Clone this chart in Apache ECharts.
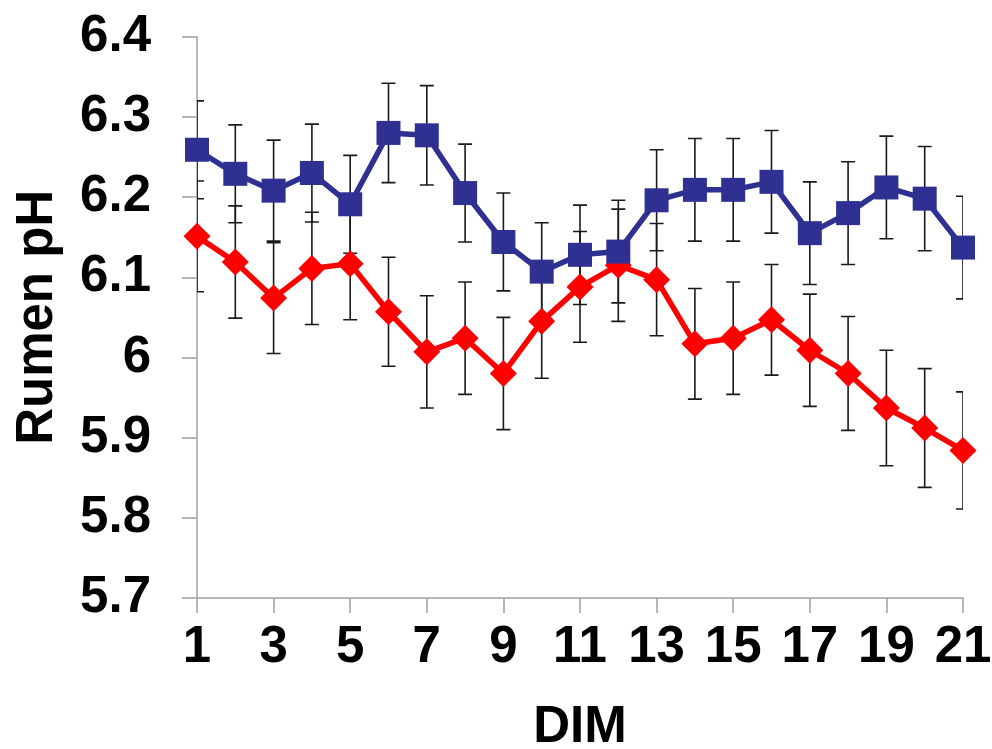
<!DOCTYPE html>
<html>
<head>
<meta charset="utf-8">
<script src="https://cdn.jsdelivr.net/npm/echarts@6/dist/echarts.min.js"></script>
<style>html,body{margin:0;padding:0;background:#fff}#c{width:992px;height:749px}</style>
</head>
<body>
<div id="c"></div>
<script>
var dim = ['1','2','3','4','5','6','7','8','9','10','11','12','13','14','15','16','17','18','19','20','21'];
var blue = [6.259, 6.229, 6.208, 6.230, 6.191, 6.280, 6.277, 6.205, 6.144, 6.107, 6.128, 6.132, 6.196, 6.209, 6.209, 6.219, 6.155, 6.180, 6.212, 6.198, 6.137];
var blueErr = [0.061, 0.061, 0.063, 0.061, 0.061, 0.062, 0.062, 0.061, 0.061, 0.061, 0.062, 0.064, 0.063, 0.064, 0.064, 0.064, 0.064, 0.064, 0.064, 0.065, 0.064];
var red = [6.151, 6.119, 6.074, 6.111, 6.117, 6.057, 6.007, 6.024, 5.980, 6.045, 6.088, 6.115, 6.097, 6.017, 6.024, 6.047, 6.009, 5.980, 5.937, 5.912, 5.884];
var redErr = [0.069, 0.070, 0.069, 0.070, 0.070, 0.068, 0.070, 0.070, 0.070, 0.071, 0.069, 0.070, 0.070, 0.069, 0.070, 0.069, 0.070, 0.071, 0.072, 0.074, 0.073];
var yMin = 5.7, yMax = 6.4, yStep = 0.1;

function errData(vals, errs) {
  return vals.map(function (v, i) { return [i, v - errs[i], v + errs[i]]; });
}
function renderErr(params, api) {
  var lo = api.coord([api.value(0), api.value(1)]);
  var hi = api.coord([api.value(0), api.value(2)]);
  var half = 7;
  var st = { stroke: '#1a1a1a', lineWidth: 1.6 };
  return {
    type: 'group',
    children: [
      { type: 'line', shape: { x1: lo[0], y1: lo[1], x2: hi[0], y2: hi[1] }, style: st },
      { type: 'line', shape: { x1: lo[0] - half, y1: lo[1], x2: lo[0] + half, y2: lo[1] }, style: st },
      { type: 'line', shape: { x1: hi[0] - half, y1: hi[1], x2: hi[0] + half, y2: hi[1] }, style: st }
    ]
  };
}
var font = '"Liberation Sans", Arial, sans-serif';
var chart = echarts.init(document.getElementById('c'));
chart.setOption({
  animation: false,
  backgroundColor: '#fff',
  grid: { left: 197, right: 29, top: 36.7, bottom: 151, containLabel: false, outerBoundsMode: 'none' },
  xAxis: {
    type: 'category',
    data: dim,
    boundaryGap: false,
    name: 'DIM',
    nameLocation: 'middle',
    nameGap: 104,
    nameTextStyle: { fontFamily: font, fontWeight: 'bold', fontSize: 51, color: '#000' },
    axisLine: { lineStyle: { color: '#a0a0a0', width: 1.5 } },
    axisTick: { show: true, interval: 1, length: 15, lineStyle: { color: '#a0a0a0', width: 1.5 } },
    axisLabel: { interval: 1, margin: 24, fontFamily: font, fontWeight: 'bold', fontSize: 51, color: '#000' },
    splitLine: { show: false }
  },
  yAxis: {
    type: 'value',
    min: yMin, max: yMax, interval: yStep,
    name: 'Rumen pH',
    nameLocation: 'middle',
    nameGap: 134,
    nameRotate: 90,
    nameTextStyle: { fontFamily: font, fontWeight: 'bold', fontSize: 51, color: '#000' },
    axisLine: { show: true, lineStyle: { color: '#a0a0a0', width: 1.5 } },
    axisTick: { show: true, length: 15, lineStyle: { color: '#a0a0a0', width: 1.5 } },
    axisLabel: { margin: 46, fontFamily: font, fontWeight: 'bold', fontSize: 51, color: '#000' },
    splitLine: { show: false }
  },
  series: [
    { type: 'custom', data: errData(blue, blueErr), renderItem: renderErr, clip: true, z: 1, silent: true },
    { type: 'custom', data: errData(red, redErr), renderItem: renderErr, clip: true, z: 1, silent: true },
    {
      type: 'line', data: red, z: 3,
      symbol: 'diamond', symbolSize: 27, showAllSymbol: true,
      lineStyle: { color: '#ff0000', width: 5.5 },
      itemStyle: { color: '#ff0000' }
    },
    {
      type: 'line', data: blue, z: 4,
      symbol: 'rect', symbolSize: 24, showAllSymbol: true,
      lineStyle: { color: '#2e3192', width: 5.5 },
      itemStyle: { color: '#2e3192' }
    }
  ]
});
</script>
</body>
</html>
